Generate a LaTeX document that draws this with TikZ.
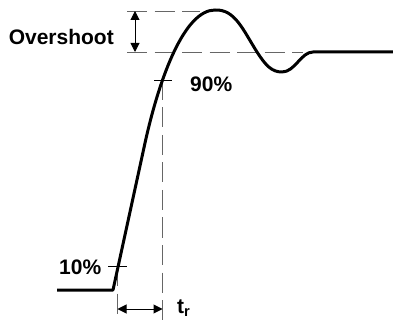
\documentclass[tikz,border=0pt]{standalone}
\usepackage{fontspec}
\setmainfont{Liberation Sans}
\usetikzlibrary{arrows.meta}
\begin{document}
\begin{tikzpicture}[x=1pt,y=-1pt,
  curve/.style={line width=3pt, line join=round},
  guide/.style={line width=0.9pt, black!60, dash pattern=on 20pt off 7.5pt},
  dim/.style={line width=1pt, {Triangle[length=9pt,width=9pt]}-{Triangle[length=9pt,width=9pt]}},
  tickmark/.style={line width=0.8pt},
  lbl/.style={font=\fontsize{21}{24}\selectfont\bfseries, inner sep=0pt}]
\useasboundingbox (0,0) rectangle (393,320);
% key points
\coordinate (s0) at (57,290);
\coordinate (s1) at (113,290);
\coordinate (s2) at (145,143);
\coordinate (pk) at (215,10);
\coordinate (mid) at (257,52);
\coordinate (tr) at (282,72);
\coordinate (st) at (313,52);
\coordinate (se) at (394,52);
\coordinate (p10) at (117.5,266);
\coordinate (p90) at (162.5,80);
\coordinate (b10) at (117.5,321);
\coordinate (b90) at (162.5,321);
\coordinate (otA) at (127,11);
\coordinate (otB) at (200,11);
\coordinate (obA) at (127,52);
\coordinate (obB) at (303,52);
\coordinate (oa1) at (135,11);
\coordinate (oa2) at (135,52);
\coordinate (ta1) at (117.5,309);
\coordinate (ta2) at (162.5,309);
\coordinate (k10a) at (108,266);
\coordinate (k10b) at (127,266);
\coordinate (k90a) at (154,80);
\coordinate (k90b) at (172,80);
% guides
\draw[guide] (otA) -- (otB);
\draw[guide] (obA) -- (obB);
\draw[guide] (p10) -- (b10);
\draw[guide] (p90) -- (b90);
% ticks
\draw[tickmark] (k10a) -- (k10b);
\draw[tickmark] (k90a) -- (k90b);
% dimension arrows
\draw[dim] (oa1) -- (oa2);
\draw[dim] (ta1) -- (ta2);
% response curve
\draw[curve] (s0) -- (s1) -- (s2)
  .. controls (160,75) and (185,10) .. (pk)
  .. controls (235,9) and (243,30) .. (mid)
  .. controls (266,66) and (272,72) .. (tr)
  .. controls (295,72) and (301,52) .. (st) -- (se);
% labels
\node[lbl, anchor=base east] (ov) at (114,45) {Overshoot};
\node[lbl, anchor=base west] (l10) at (59,274) {10\%};
\node[lbl, anchor=base west] (l90) at (190,91.5) {90\%};
\node[lbl, anchor=base west] (ltr) at (177,313) {t\textsubscript{r}};
\end{tikzpicture}
\end{document}
